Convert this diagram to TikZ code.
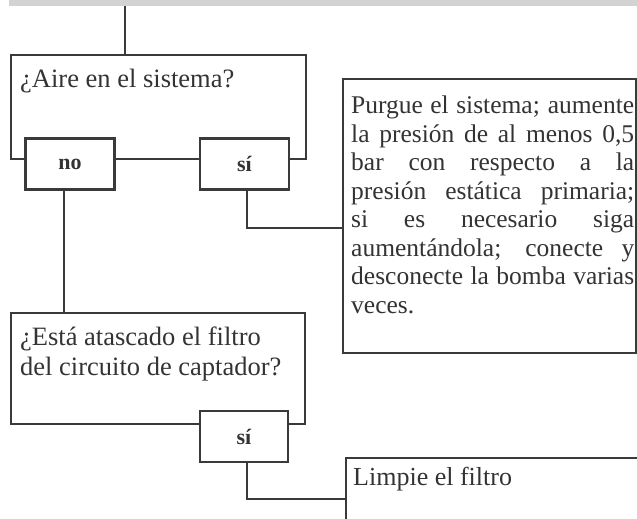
\documentclass[tikz,border=0pt]{standalone}
\usepackage{fontspec}
\setmainfont{Liberation Serif}
\definecolor{linea}{HTML}{3A3A3A}
\definecolor{testo}{HTML}{333333}
\definecolor{barra}{HTML}{D3D3D3}

\begin{document}
\begin{tikzpicture}[x=1pt, y=-1pt,
    casella/.style={draw=linea, line width=2.4pt, inner sep=0pt},
    risposta/.style={casella, fill=white, text=testo, minimum width=89pt, minimum height=51pt,
      font=\fontsize{22}{26}\selectfont\bfseries},
    scritta/.style={inner sep=0pt, anchor=north west, text=testo, align=left,
      font=\fontsize{26.5}{30}\selectfont},
    collega/.style={draw=linea, line width=2.4pt}]
  \clip (0,0) rectangle (637,519);
  % Barra in alto
  \fill[barra] (9,0) rectangle (637,6);
  \coordinate (inizio) at (125,6);

  % Caselle
  \node[casella, minimum width=295pt, minimum height=104pt] (aria) at (158.5,107) {};
  \node[scritta] (ariaT) at (20,69) {¿Aire en el sistema?};
  \node[risposta] (no) at (70,164) {no};
  \node[risposta] (si1) at (244.5,164) {sí};

  \node[casella, minimum width=293pt, minimum height=274pt] (purga) at (489.5,216) {};
  \node[scritta, text width=283pt, align=justify, font=\fontsize{25.5}{28.5}\selectfont,
    execute at begin node={\tolerance=10000 \hyphenpenalty=10000}] (purgaT) at (351,96)
    {Purgue el sistema; aumente\linebreak la presión de al menos 0,5\linebreak
     bar con respecto a la\linebreak presión estática primaria;\linebreak
     si es necesario siga\linebreak aumentándola; conecte y\linebreak
     desconecte la bomba varias\linebreak veces.};

  \node[casella, minimum width=294pt, minimum height=111pt] (filtro) at (158,368.5) {};
  \node[scritta] (filtroT) at (20,327) {¿Está atascado el filtro\\del circuito de captador?};
  \node[risposta, minimum width=88pt] (si2) at (244,436.5) {sí};

  \node[casella, minimum width=400pt, minimum height=200pt, anchor=north west] (pulizia) at (345,457) {};
  \node[scritta, font=\fontsize{26}{29}\selectfont] (puliziaT) at (353,467) {Limpie el filtro};

  % Collegamenti
  \coordinate (gomito0) at (64,190);
  \coordinate (gomito1) at (247,228);
  \coordinate (gomito2) at (247,499);
  \draw[collega] (inizio) -- (inizio |- aria.north);
  \draw[collega] (gomito0 |- no.south) -- (gomito0 |- filtro.north);
  \draw[collega] (si1.south -| gomito1) -- (gomito1) -- (gomito1 -| purga.west);
  \draw[collega] (si2.south -| gomito2) -- (gomito2) -- (gomito2 -| pulizia.west);
\end{tikzpicture}
\end{document}
